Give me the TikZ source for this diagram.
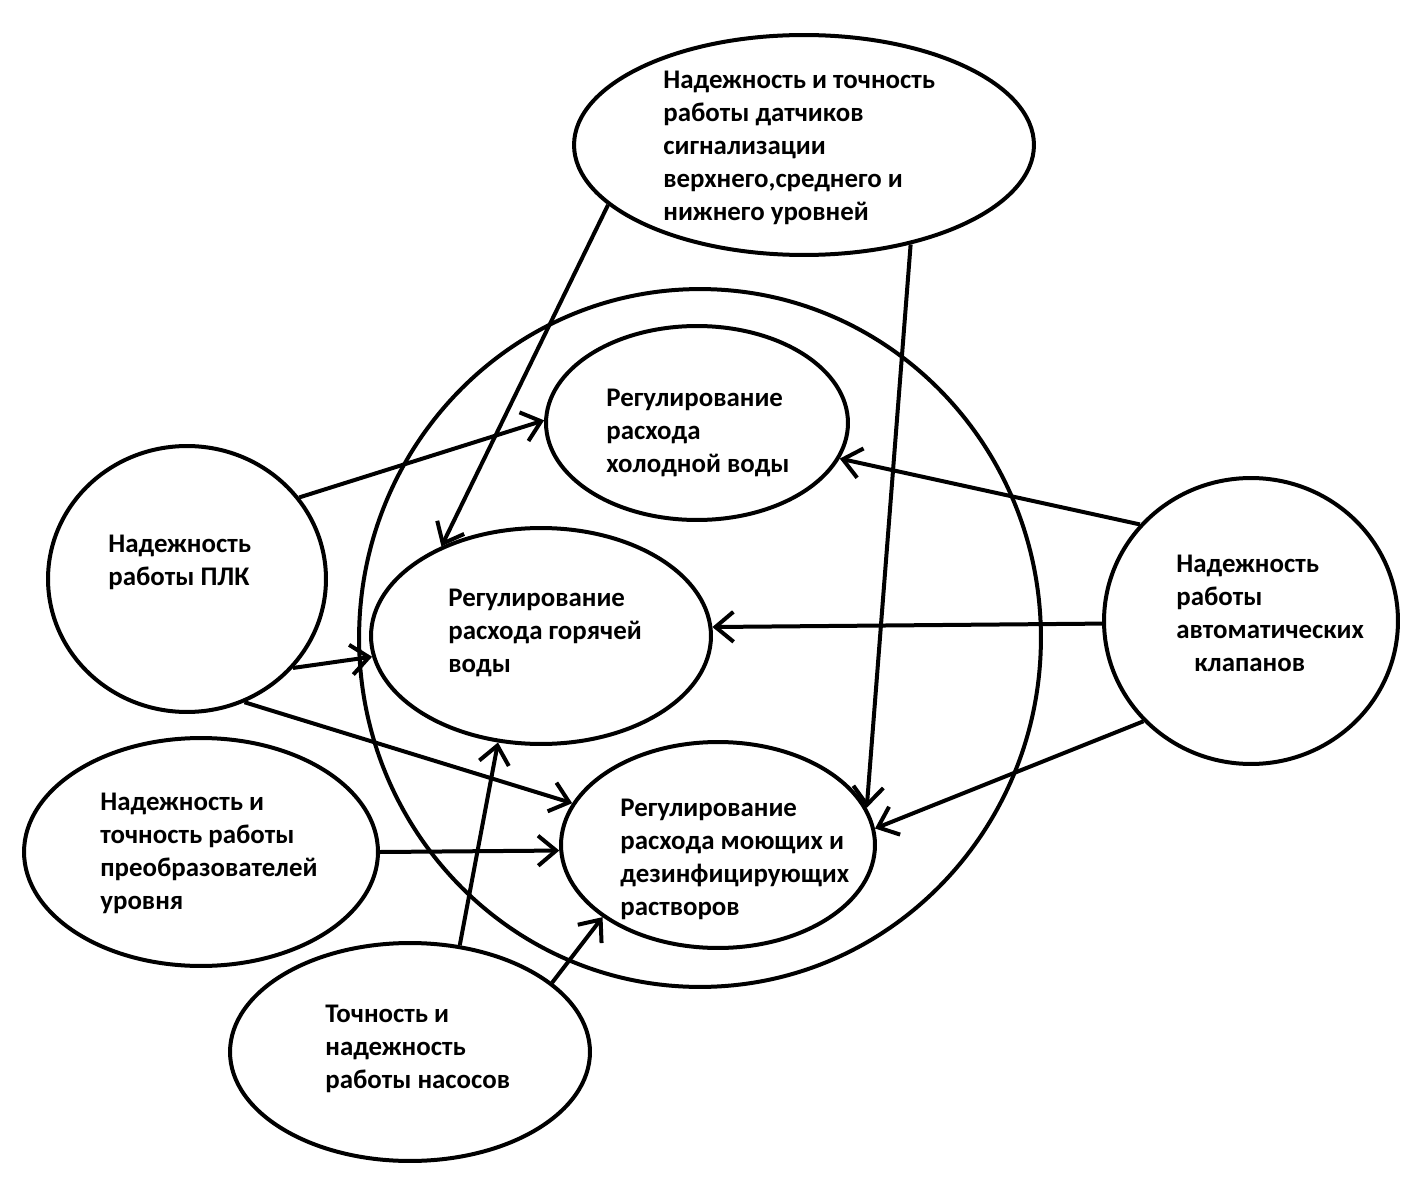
\documentclass[tikz,border=0pt]{standalone}
\usepackage{fontspec}
\setmainfont{Carlito}
\usetikzlibrary{shapes.geometric}
\usetikzlibrary{arrows.meta}

\tikzset{
  zone/.style={ellipse, draw, line width=0.08cm, inner sep=0pt},
  lbl/.style={anchor=west, align=left, inner sep=0pt, font=\fontsize{15.3}{18.78}\selectfont\bfseries},
  link/.style={line width=0.08cm, -{Straight Barb[length=0.36cm, width=0.6cm]}}
}

\begin{document}
\begin{tikzpicture}[x=0.02cm, y=-0.02cm]
  \useasboundingbox (0,0) rectangle (1424,1196);

  \node[zone, minimum width=13.64cm, minimum height=13.96cm] (all) at (700,638) {};
  \node[zone, minimum width=9.2cm, minimum height=4.4cm] (sens) at (804,145) {};
  \node[zone, minimum width=6.04cm, minimum height=3.88cm] (cold) at (697,423) {};
  \node[zone, minimum width=6.8cm, minimum height=4.32cm] (hot) at (541,636) {};
  \node[zone, minimum width=6.28cm, minimum height=4.12cm] (wash) at (718,845) {};
  \node[zone, minimum width=5.56cm, minimum height=5.32cm] (plc) at (187,579) {};
  \node[zone, minimum width=7.08cm, minimum height=4.56cm] (conv) at (201,852) {};
  \node[zone, minimum width=7.2cm, minimum height=4.36cm] (pump) at (410,1052) {};
  \node[zone, minimum width=5.88cm, minimum height=5.72cm] (valve) at (1251,621) {};

  \node[lbl] (sensT) at (663,148) {Надежность и точность\\работы датчиков\\сигнализации\\верхнего,среднего и\\нижнего уровней};
  \node[lbl] (coldT) at (606,433) {Регулирование\\расхода\\холодной воды};
  \node[lbl] (hotT) at (448,633) {Регулирование\\расхода горячей\\воды};
  \node[lbl] (washT) at (620,859.5) {Регулирование\\расхода моющих и\\дезинфицирующих\\растворов};
  \node[lbl] (plcT) at (108,562.5) {Надежность\\работы ПЛК};
  \node[lbl] (convT) at (100,853.5) {Надежность и\\точность работы\\преобразователей\\уровня};
  \node[lbl] (pumpT) at (325,1049) {Точность и\\надежность\\работы насосов};
  \node[lbl] (valveT) at (1176,613.5) {Надежность\\работы\\автоматических\\\hspace*{0.36cm}клапанов};

  \draw[link] (sens.197) -- (hot.138);
  \draw[link] (sens.317) -- (wash.14);
  \draw[link] (plc.36) -- (cold.179);
  \draw[link] (plc.320) -- (hot.187);
  \draw[link] (plc.295) -- (wash.164);
  \draw[link] (conv.0) -- (wash.182);
  \draw[link] (pump.65) -- (hot.248);
  \draw[link] (pump.26) -- (wash.212);
  \draw[link] (valve.139) -- (cold.346);
  \draw[link] (valve.181) -- (hot.3);
  \draw[link] (valve.223) -- (wash.6);
\end{tikzpicture}
\end{document}
